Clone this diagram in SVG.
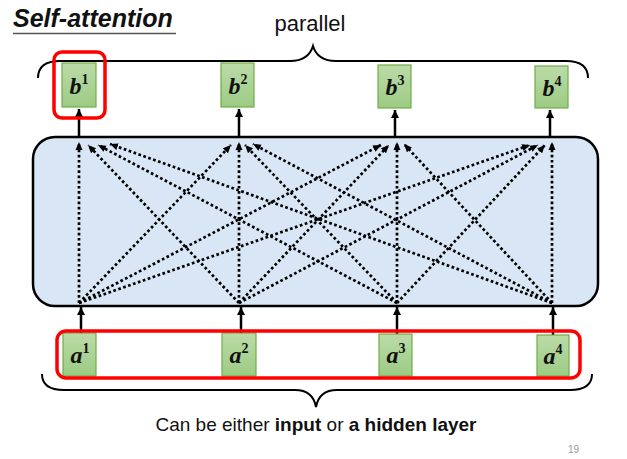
<svg xmlns="http://www.w3.org/2000/svg" width="627" height="459" viewBox="0 0 627 459">
<style>
.box{stroke:#70ad47;stroke-width:1.2;fill:url(#g)}
.lbl{font-family:"Liberation Serif","DejaVu Serif",serif;font-weight:bold;font-style:italic;font-size:24px;fill:#111;text-anchor:middle}
.sup{font-size:14px;font-style:normal}
.solid{stroke:#000;stroke-width:2.5;fill:none;marker-end:url(#ah)}
.dot{stroke:#000;stroke-width:2.7;stroke-dasharray:2.7 2.5;fill:none;marker-end:url(#ad)}
.red{fill:none;stroke:#ff0000;stroke-width:3.5}
.brace{fill:none;stroke:#000;stroke-width:2}
</style>
<defs>
<linearGradient id="g" x1="0" y1="0" x2="0" y2="1">
<stop offset="0" stop-color="#bcdba8"/>
<stop offset="1" stop-color="#9ccb84"/>
</linearGradient>
<marker id="ah" markerUnits="userSpaceOnUse" markerWidth="10" markerHeight="10" refX="8" refY="4" orient="auto">
<path d="M0,0 L8,4 L0,8 Z" fill="#000"/>
</marker>
<marker id="ad" markerUnits="userSpaceOnUse" markerWidth="10" markerHeight="10" refX="8" refY="4" orient="auto">
<path d="M0,0.5 L8,4 L0,7.5 Z" fill="#000"/>
</marker>
</defs>
<rect width="627" height="459" fill="#fff"/>

<g id="title">
<text x="13" y="27" font-family="Liberation Sans,Arial,sans-serif" font-weight="bold" font-style="italic" font-size="25" fill="#111">Self-attention</text>
<line x1="13" y1="33.5" x2="176" y2="33.5" stroke="#555" stroke-width="1.5"/>
</g>

<g id="parallel-label">
<text x="310" y="31" font-family="Liberation Sans,Arial,sans-serif" font-size="22" fill="#111" text-anchor="middle">parallel</text>
<path class="brace" d="M38,78 C38,66 46,61 60,61 L290,61 C303,61 310,56 313,46 C316,56 323,61 336,61 L566,61 C580,61 588,66 588,78"/>
</g>

<g id="attention">
<rect x="33" y="137" width="565" height="169" rx="22" fill="#d8e6f5" stroke="#000" stroke-width="2.5"/>
</g>

<g id="connectors">
<line class="solid" x1="79" y1="137" x2="79" y2="109"/>
<line class="solid" x1="239" y1="137" x2="239" y2="109"/>
<line class="solid" x1="395" y1="137" x2="395" y2="110"/>
<line class="solid" x1="550" y1="137" x2="550" y2="110"/>
<line class="solid" x1="81" y1="334" x2="81" y2="307"/>
<line class="solid" x1="241" y1="334" x2="241" y2="307"/>
<line class="solid" x1="397" y1="335" x2="397" y2="307"/>
<line class="solid" x1="553" y1="335" x2="553" y2="307"/>
<line class="dot" x1="79" y1="303" x2="79" y2="142"/>
<line class="dot" x1="239" y1="303" x2="88" y2="145"/>
<line class="dot" x1="397" y1="303" x2="98" y2="145"/>
<line class="dot" x1="552" y1="303" x2="110" y2="144"/>
<line class="dot" x1="79" y1="303" x2="231" y2="145"/>
<line class="dot" x1="239" y1="303" x2="239" y2="142"/>
<line class="dot" x1="397" y1="303" x2="245" y2="145"/>
<line class="dot" x1="552" y1="303" x2="253" y2="144"/>
<line class="dot" x1="79" y1="303" x2="381" y2="145"/>
<line class="dot" x1="239" y1="303" x2="389" y2="145"/>
<line class="dot" x1="397" y1="303" x2="397" y2="142"/>
<line class="dot" x1="552" y1="303" x2="404" y2="144"/>
<line class="dot" x1="79" y1="303" x2="530" y2="145"/>
<line class="dot" x1="239" y1="303" x2="538" y2="145"/>
<line class="dot" x1="397" y1="303" x2="545" y2="145"/>
<line class="dot" x1="552" y1="303" x2="552" y2="142"/>
</g>

<g id="b1"><rect class="box" x="62" y="63" width="34" height="44"/><text class="lbl" x="79" y="94">b<tspan class="sup" dy="-10">1</tspan></text></g>
<g id="b2"><rect class="box" x="221" y="63" width="33" height="44"/><text class="lbl" x="238" y="94">b<tspan class="sup" dy="-10">2</tspan></text></g>
<g id="b3"><rect class="box" x="378" y="65" width="33" height="43"/><text class="lbl" x="395" y="95">b<tspan class="sup" dy="-10">3</tspan></text></g>
<g id="b4"><rect class="box" x="535" y="66" width="33" height="42"/><text class="lbl" x="552" y="96">b<tspan class="sup" dy="-10">4</tspan></text></g>
<g id="b1-highlight"><rect class="red" x="54" y="52" width="51" height="66" rx="8"/></g>

<g id="a1"><rect class="box" x="63" y="333" width="33" height="43"/><text class="lbl" x="80" y="363">a<tspan class="sup" dy="-10">1</tspan></text></g>
<g id="a2"><rect class="box" x="222" y="333" width="34" height="43"/><text class="lbl" x="239" y="363">a<tspan class="sup" dy="-10">2</tspan></text></g>
<g id="a3"><rect class="box" x="379" y="334" width="33" height="42"/><text class="lbl" x="396" y="363">a<tspan class="sup" dy="-10">3</tspan></text></g>
<g id="a4"><rect class="box" x="537" y="335" width="32" height="41"/><text class="lbl" x="553" y="364">a<tspan class="sup" dy="-10">4</tspan></text></g>
<g id="a-highlight"><rect class="red" x="57" y="331" width="523" height="47" rx="9"/></g>

<g id="input-label">
<path class="brace" d="M42,374 C42,385 50,390 64,390 L295,390 C308,390 314,396 316,407 C318,396 324,390 337,390 L570,390 C584,390 592,385 592,374"/>
<text x="316" y="431" font-family="Liberation Sans,Arial,sans-serif" font-size="19" fill="#111" text-anchor="middle">Can be either <tspan font-weight="bold">input</tspan> or <tspan font-weight="bold">a hidden layer</tspan></text>
</g>

<g id="page-number"><text x="568" y="453" font-family="Liberation Sans,Arial,sans-serif" font-size="10" fill="#999">19</text></g>
</svg>
